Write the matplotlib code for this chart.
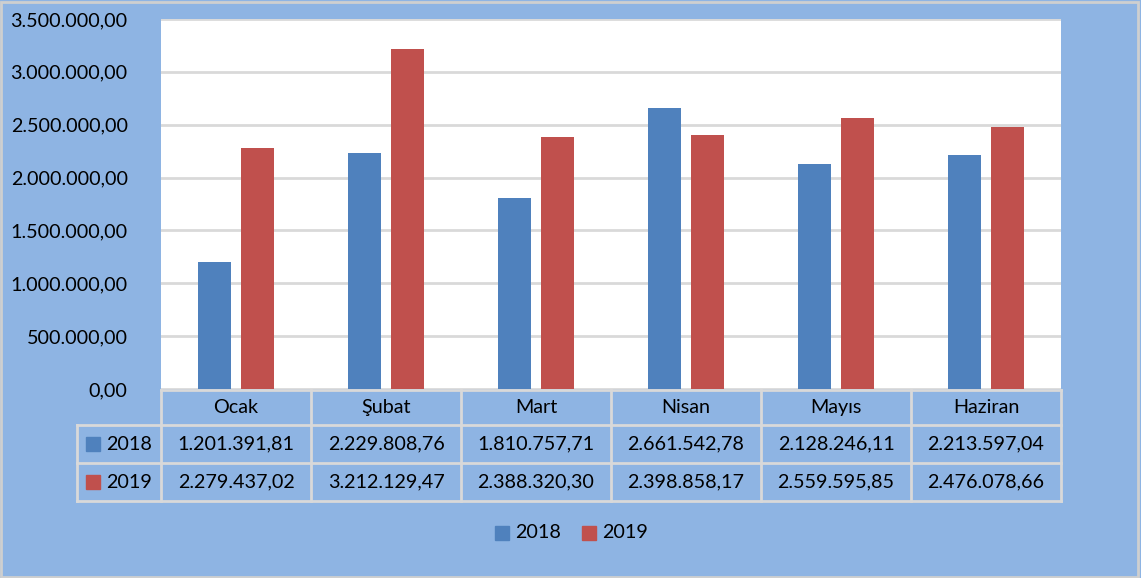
import matplotlib.pyplot as plt
from matplotlib.patches import Rectangle
import numpy as np

plt.rcParams['font.family'] = ['Lato', 'DejaVu Sans']

aylar = ['Ocak', 'Şubat', 'Mart', 'Nisan', 'Mayıs', 'Haziran']
yil_2018 = [1201391.81, 2229808.76, 1810757.71, 2661542.78, 2128246.11, 2213597.04]
yil_2019 = [2279437.02, 3212129.47, 2388320.30, 2398858.17, 2559595.85, 2476078.66]
seriler = ['2018', '2019']

BG = '#8EB4E3'
MAVI = '#4F81BD'
KIRMIZI = '#C0504D'
CIZGI = '#D9D9D9'
FS = 14.2


def tr(v):
    s = f'{v:,.2f}'
    return s.replace(',', 'X').replace('.', ',').replace('X', '.')


W, H = 1141, 578
fig = plt.figure(figsize=(W / 100, H / 100), dpi=100, facecolor=BG)
# plot area in pixels: x 161..1061, y 19..389
ax = fig.add_axes([161 / W, (H - 389) / H, 900 / W, 370 / H])
ax.set_facecolor('white')

x = np.arange(len(aylar))
bw = 0.22
ax.bar(x - 0.145, yil_2018, bw, color=MAVI, zorder=3)
ax.bar(x + 0.145, yil_2019, bw, color=KIRMIZI, zorder=3)
ax.set_xlim(-0.5, len(aylar) - 0.5)
ax.set_ylim(0, 3500000)
yt = np.arange(0, 3500001, 500000)
ax.set_yticks(yt)
ax.set_yticklabels([tr(v) for v in yt], fontsize=FS)
ax.tick_params(axis='y', length=0, pad=24)
ax.set_xticks([])
for s in ax.spines.values():
    s.set_visible(False)
ax.grid(axis='y', color=CIZGI, linewidth=2, zorder=0)


# data table below the axes (drawn in pixel positions)
def ax_y(py):
    return (389 - py) / 370


def ax_x(px):
    return (px - 161) / 900


rows = [390, 425, 463, 501]
lw = 2
kw = dict(transform=ax.transAxes, clip_on=False, color=CIZGI, lw=lw)
# horizontal lines
ax.plot([0, 1], [ax_y(rows[0])] * 2, **kw)
for r in rows[1:]:
    ax.plot([ax_x(77), 1], [ax_y(r)] * 2, **kw)
# vertical lines
for i in range(len(aylar) + 1):
    ax.plot([i / 6, i / 6], [ax_y(rows[0]), ax_y(rows[3])], **kw)
ax.plot([ax_x(77)] * 2, [ax_y(rows[1]), ax_y(rows[3])], **kw)

for i, ay in enumerate(aylar):
    cx = (i + 0.5) / 6
    ax.text(cx, ax_y((rows[0] + rows[1]) / 2), ay, transform=ax.transAxes,
            ha='center', va='center', fontsize=FS)
    ax.text(cx, ax_y((rows[1] + rows[2]) / 2), tr(yil_2018[i]), transform=ax.transAxes,
            ha='center', va='center', fontsize=FS)
    ax.text(cx, ax_y((rows[2] + rows[3]) / 2), tr(yil_2019[i]), transform=ax.transAxes,
            ha='center', va='center', fontsize=FS)

for j, (ad, renk) in enumerate(zip(seriler, [MAVI, KIRMIZI])):
    cy = (rows[j + 1] + rows[j + 2]) / 2
    fig.patches.append(Rectangle((86 / W, (H - cy - 7) / H), 14 / W, 14 / H,
                                 transform=fig.transFigure, color=renk))
    fig.text(106 / W, (H - cy) / H, ad, ha='left', va='center', fontsize=FS)

# legend at bottom
for j, (ad, renk, kx) in enumerate(zip(seriler, [MAVI, KIRMIZI], [495, 582])):
    fig.patches.append(Rectangle((kx / W, (H - 540) / H), 14 / W, 14 / H,
                                 transform=fig.transFigure, color=renk))
    fig.text((kx + 20) / W, (H - 533) / H, ad, ha='left', va='center', fontsize=FS)

# outer border
fig.patches.append(Rectangle((0.001, 0.002), 0.996, 0.995, transform=fig.transFigure,
                             fill=False, edgecolor='#CFCFCF', lw=2))

fig.savefig('out.png', dpi=100, facecolor=BG)
